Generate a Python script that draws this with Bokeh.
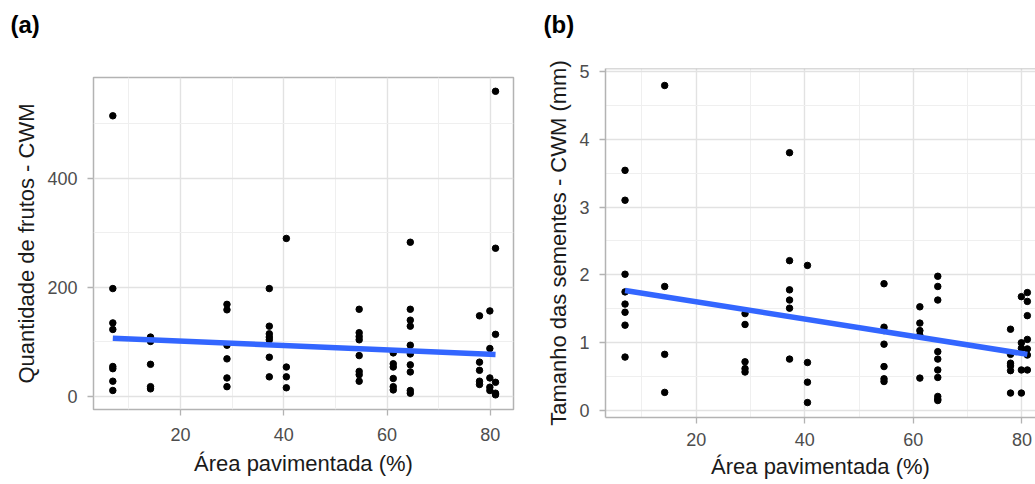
from bokeh.plotting import figure
from bokeh.layouts import row, column
from bokeh.models import FixedTicker, Range1d, Span
from bokeh.embed import file_html
from bokeh.resources import INLINE

# ---------------- data ----------------
# Panel (a): Quantidade de frutos - CWM
a_x = ([6.9] * 8 + [14.2] * 5 + [29.0] * 6 + [37.2] * 7 + [40.5] * 4 + [54.6] * 8
       + [61.2] * 6 + [64.5] * 10 + [77.9] * 5 + [79.9] * 5 + [81.0] * 6)
a_y = [515, 198, 135, 123, 55, 51, 28, 11,
       109, 101, 59, 18, 14,
       169, 159, 94, 69, 34, 18,
       198, 129, 115, 109, 104, 72, 36,
       290, 54, 36, 16,
       160, 117, 110, 104, 75, 46, 40, 28,
       80, 60, 54, 33, 18, 12,
       283, 160, 140, 129, 94, 78, 58, 45, 11, 6,
       148, 63, 48, 28, 22,
       157, 88, 34, 17, 11,
       560, 272, 114, 26, 6, 3]
a_fit_x = [6.9, 81.0]
a_fit_y = [107, 77]

# Panel (b): Tamanho das sementes - CWM (mm)
b_x = ([6.9] * 8 + [14.2] * 4 + [29.0] * 5 + [37.2] * 6 + [40.5] * 4 + [54.6] * 7
       + [61.2] * 5 + [64.5] * 10 + [77.9] * 6 + [79.9] * 5 + [81.0] * 7)
b_y = [3.54, 3.10, 2.01, 1.75, 1.57, 1.45, 1.26, 0.79,
       4.79, 1.83, 0.83, 0.27,
       1.43, 1.27, 0.72, 0.62, 0.57,
       3.80, 2.21, 1.78, 1.63, 1.51, 0.76,
       2.14, 0.71, 0.42, 0.12,
       1.87, 1.23, 1.18, 0.98, 0.65, 0.47, 0.43,
       1.53, 1.29, 1.18, 1.11, 0.48,
       1.98, 1.83, 1.63, 0.87, 0.76, 0.60, 0.49, 0.21, 0.17, 0.15,
       1.20, 0.83, 0.70, 0.66, 0.59, 0.26,
       1.68, 1.00, 0.92, 0.60, 0.26,
       1.74, 1.61, 1.40, 1.05, 0.91, 0.82, 0.60]
b_fit_x = [6.9, 81.0]
b_fit_y = [1.77, 0.83]

x_ticks = [20, 40, 60, 80]
x_minor = [10, 30, 50, 70]
a_ticks = [0, 200, 400]
a_minor = [100, 300, 500]
b_ticks = [0, 1, 2, 3, 4, 5]
b_minor = [0.5, 1.5, 2.5, 3.5, 4.5]

x_title = "Área pavimentada (%)"
a_title = "Quantidade de frutos - CWM"
b_title = "Tamanho das sementes - CWM (mm)"

FONT = "Liberation Sans"
BORDER = "#B3B3B3"
H = 484


def style(p, yt, ym, ytitle, tag, lift):
    p.xaxis.ticker = FixedTicker(ticks=x_ticks, minor_ticks=x_minor)
    p.yaxis.ticker = FixedTicker(ticks=yt, minor_ticks=ym)
    for ax in p.xaxis + p.yaxis:
        ax.axis_line_color = None
        ax.major_tick_line_color = BORDER
        ax.major_tick_line_width = 1.3
        ax.major_tick_out = 6
        ax.major_tick_in = 0
        ax.minor_tick_line_color = None
        ax.major_label_text_font = FONT
        ax.major_label_text_font_size = "18px"
        ax.major_label_text_color = "#4D4D4D"
        ax.axis_label_text_font = FONT
        ax.axis_label_text_font_size = "22px"
        ax.axis_label_text_font_style = "normal"
        ax.axis_label_text_color = "#1A1A1A"
    p.xaxis.major_label_standoff = 12
    p.xaxis.axis_label_standoff = 7
    p.yaxis.major_label_standoff = 10
    p.yaxis.axis_label_standoff = 5
    p.xaxis.axis_label = x_title
    p.yaxis.axis_label = ytitle
    p.xgrid.grid_line_color = "#E2E2E2"
    p.xgrid.grid_line_width = 1.4
    p.ygrid.grid_line_color = "#E2E2E2"
    p.ygrid.grid_line_width = 1.4
    p.xgrid.minor_grid_line_color = "#EFEFEF"
    p.ygrid.minor_grid_line_color = "#EFEFEF"
    p.xgrid.minor_grid_line_width = 1
    p.ygrid.minor_grid_line_width = 1
    p.background_fill_color = "white"
    p.border_fill_color = "white"
    p.title.text = tag
    p.title.align = "left"
    p.title.vertical_align = "bottom"
    p.title.text_font = FONT
    p.title.text_font_size = "24px"
    p.title.text_font_style = "bold"
    p.title.text_color = "#000000"
    p.title.standoff = 0
    p.title.padding = dict(left=0, right=0, top=0, bottom=lift)


pa = figure(width=543, height=H, output_backend="svg", toolbar_location=None,
            x_range=Range1d(3.16, 84.48), y_range=Range1d(-23.9, 585.3),
            min_border_left=93, min_border_right=30, min_border_top=77, min_border_bottom=75)
style(pa, a_ticks, a_minor, a_title, "(a)", 40)
pa.title.offset = -83
pa.outline_line_color = BORDER
pa.outline_line_width = 1.5
pa.scatter(a_x, a_y, size=6.5, color="black")
pa.line(a_fit_x, a_fit_y, line_color="#3366FF", line_width=5.5)

pb = figure(width=492, height=H, output_backend="svg", toolbar_location=None,
            x_range=Range1d(3.3, 82.5), y_range=Range1d(-0.1, 5.04),
            min_border_left=62, min_border_right=0, min_border_top=68, min_border_bottom=67)
style(pb, b_ticks, b_minor, b_title, "(b)", 31)
pb.title.offset = -62
pb.xaxis.major_label_standoff = 9
pb.xaxis.axis_label_standoff = 5
pb.outline_line_color = None
pb.xaxis.axis_line_color = BORDER
pb.xaxis.axis_line_width = 1.5
pb.yaxis.axis_line_color = BORDER
pb.yaxis.axis_line_width = 1.5
pb.add_layout(Span(location=5.04, dimension="width", line_color=BORDER, line_width=1.5))
pb.scatter(b_x, b_y, size=6.5, color="black")
pb.line(b_fit_x, b_fit_y, line_color="#3366FF", line_width=5.5)

layout = row(pa, column(pb))
open("out.html", "w").write(file_html(layout, INLINE))
